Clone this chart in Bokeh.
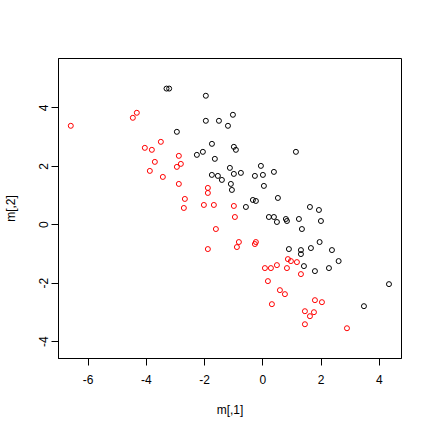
from bokeh.plotting import figure
from bokeh.models import FixedTicker, Range1d
from bokeh.embed import file_html
from bokeh.resources import INLINE

# group 1 (black)
black_x = [-3.31, -3.22, -1.96, -1.03, -1.96, -1.51, -1.20, -2.955, -1.75, -0.997,
           -0.928, -2.268, -2.062, -1.65, -1.134, -0.997, -1.753, -1.546, -1.409, -1.10,
           -1.065, 1.134, -0.069, -0.756, -0.275, 0.0, 0.378, 0.034, -0.344, -0.241,
           0.515, -0.584, 1.615, 1.924, 0.206, 0.378, 0.481, 0.790, 0.825, 1.237,
           1.993, 1.34, 1.948, 0.893, 1.306, 1.306, 1.649, 2.371, 2.601, 1.409,
           1.787, 2.268, 4.33, 3.47]
black_y = [4.66, 4.66, 4.415, 3.763, 3.557, 3.557, 3.386, 3.18, 2.768, 2.666,
           2.563, 2.391, 2.494, 2.254, 1.945, 1.739, 1.705, 1.671, 1.533, 1.396,
           1.19, 2.494, 2.014, 1.774, 1.671, 1.705, 1.808, 1.328, 0.847, 0.813,
           0.916, 0.607, 0.607, 0.504, 0.264, 0.264, 0.093, 0.196, 0.127, 0.196,
           0.127, -0.148, -0.593, -0.834, -0.868, -1.005, -0.799, -0.868, -1.245, -1.417,
           -1.588, -1.485, -2.034, -2.789]

# group 2 (red)
red_x = [-6.598, -4.33, -4.467, -3.505, -4.055, -3.814, -2.887, -3.711, -2.818, -2.955,
         -3.883, -3.436, -2.887, -1.89, -1.89, -2.68, -2.715, -2.027, -1.684, -0.997,
         -0.962, -1.615, -1.89, -0.825, -0.893, -0.241, -0.275, 0.859, 0.962, 1.168,
         0.069, 0.275, 0.481, 0.825, 1.306, 0.172, 0.584, 0.756, 0.309, 1.787,
         2.027, 1.443, 1.753, 1.615, 1.443, 2.887]
red_y = [3.386, 3.832, 3.66, 2.837, 2.631, 2.563, 2.357, 2.151, 2.082, 1.979,
         1.842, 1.636, 1.396, 1.259, 1.087, 0.882, 0.573, 0.676, 0.676, 0.642,
         0.264, -0.148, -0.834, -0.593, -0.765, -0.593, -0.662, -1.177, -1.245, -1.28,
         -1.485, -1.485, -1.383, -1.485, -1.691, -1.931, -2.24, -2.377, -2.72, -2.583,
         -2.652, -2.961, -2.995, -3.132, -3.407, -3.544]

x_ticks = [-6, -4, -2, 0, 2, 4]
y_ticks = [-4, -2, 0, 2, 4]
x_label = "m[,1]"
y_label = "m[,2]"

p = figure(width=423, height=423, output_backend="svg", toolbar_location=None,
           x_range=Range1d(-7.02, 4.76), y_range=Range1d(-4.58, 5.69),
           frame_width=343, frame_height=300,
           min_border_left=58, min_border_top=58, min_border_right=22, min_border_bottom=57,
           x_axis_label=x_label, y_axis_label=y_label)
p.grid.visible = False
p.outline_line_color = "black"
p.outline_line_width = 1
p.background_fill_color = "white"
p.border_fill_color = "white"

for ax, ticks in ((p.xaxis[0], x_ticks), (p.yaxis[0], y_ticks)):
    ax.ticker = FixedTicker(ticks=ticks)
    ax.major_label_overrides = {t: str(t) for t in ticks}
    ax.minor_tick_line_color = None
    ax.major_tick_in = 0
    ax.major_tick_out = 7
    ax.major_tick_line_color = "black"
    ax.axis_line_color = "black"
    ax.major_label_text_font = "Liberation Sans"
    ax.major_label_text_font_size = "12px"
    ax.major_label_text_color = "black"
    ax.axis_label_text_font = "Liberation Sans"
    ax.axis_label_text_font_size = "12px"
    ax.axis_label_text_font_style = "normal"
    ax.axis_label_text_color = "black"

p.xaxis[0].major_label_standoff = 9
p.xaxis[0].axis_label_standoff = 16
p.yaxis[0].major_label_orientation = "vertical"
p.yaxis[0].major_label_standoff = 3
p.yaxis[0].axis_label_standoff = 19

p.scatter(black_x, black_y, marker="circle", size=5, fill_color=None,
          line_color="black", line_width=1)
p.scatter(red_x, red_y, marker="circle", size=5, fill_color=None,
          line_color="#FF0000", line_width=1)

open("out.html", "w").write(file_html(p, INLINE))
